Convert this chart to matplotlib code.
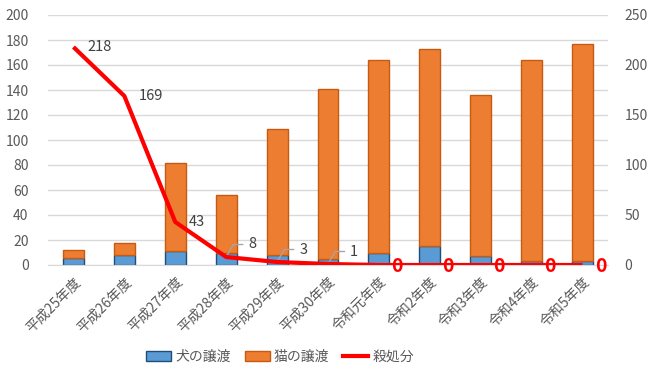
import matplotlib
matplotlib.use("Agg")
import matplotlib.pyplot as plt
import numpy as np
from matplotlib.patches import Patch
from matplotlib.lines import Line2D

plt.rcParams['font.family'] = ['Noto Sans CJK JP', 'DejaVu Sans']

categories = ["平成25年度", "平成26年度", "平成27年度", "平成28年度", "平成29年度", "平成30年度",
              "令和元年度", "令和2年度", "令和3年度", "令和4年度", "令和5年度"]
dogs = [6, 8, 11, 10, 8, 5, 10, 15, 7, 3, 3]
cats = [6, 10, 71, 46, 101, 136, 154, 158, 129, 161, 174]
culled = [218, 169, 43, 8, 3, 1, 0, 0, 0, 0, 0]

fig = plt.figure(figsize=(6.5, 3.77), dpi=100)
ax = fig.add_axes([48/650, 1-265/377, (608-48)/650, 250/377])
x = np.arange(len(categories))
w = 0.41
ax.bar(x, dogs, w, color='#5b9bd5', edgecolor='#1f4e79', linewidth=1.0, zorder=2)
ax.bar(x, cats, w, bottom=dogs, color='#ed7d31', edgecolor='#c55a11', linewidth=1.0, zorder=2)
ax.set_xlim(-0.5, len(categories)-0.5)
ax.set_ylim(0, 200)
ax.set_yticks(np.arange(0, 201, 20))
ax.grid(axis='y', color='#d9d9d9', linewidth=1.0, zorder=0)
ax.set_axisbelow(True)
for s in ['top', 'right', 'left']:
    ax.spines[s].set_visible(False)
ax.spines['bottom'].set_color('#d9d9d9')
ax.tick_params(axis='both', length=0, colors='#595959', labelsize=10)
ax.set_xticks(x)
ax.set_xticklabels(categories, rotation=45, ha='right', rotation_mode='anchor', fontsize=10, color='#595959')
ax.tick_params(axis='x', pad=7)
ax.tick_params(axis='y', pad=14)

ax2 = ax.twinx()
ax2.set_ylim(0, 250)
ax2.set_yticks(np.arange(0, 251, 50))
for s in ax2.spines.values():
    s.set_visible(False)
ax2.tick_params(axis='y', length=0, colors='#595959', labelsize=10, pad=12)
ax2.plot(x, culled, color='#ff0000', linewidth=3, zorder=5, solid_capstyle='butt')

for i, v in enumerate(culled):
    if v >= 20:
        ax2.annotate(str(v), (x[i], v), xytext=(10, 0), textcoords='offset points',
                     fontsize=10.5, color='#404040', va='center', ha='left')
    elif v > 0:
        ax2.annotate(str(v), (x[i], v), xytext=(16, 9), textcoords='offset points',
                     fontsize=10.5, color='#404040', va='center', ha='left',
                     arrowprops=dict(arrowstyle='-', color='#a6a6a6', lw=1,
                                     shrinkA=2, shrinkB=0,
                                     connectionstyle='angle,angleA=0,angleB=60,rad=0',
                                     relpos=(0, 0.5)))
    else:
        ax2.annotate(str(v), (x[i], v), xytext=(9, -1), textcoords='offset points',
                     fontsize=14, color='#ff0000', fontweight='bold', va='center', ha='left')

handles = [Patch(facecolor='#5b9bd5', edgecolor='#1f4e79', label='犬の譲渡'),
           Patch(facecolor='#ed7d31', edgecolor='#c55a11', label='猫の譲渡'),
           Line2D([0], [0], color='#ff0000', lw=3, label='殺処分')]
leg = fig.legend(handles=handles, loc='center', bbox_to_anchor=(280/650, 1-357/377), ncol=3,
                 frameon=False, fontsize=10, handlelength=1.8, handleheight=0.7,
                 columnspacing=1.0, handletextpad=0.3)
for t in leg.get_texts():
    t.set_color('#595959')

fig.savefig('out.png', dpi=100)
